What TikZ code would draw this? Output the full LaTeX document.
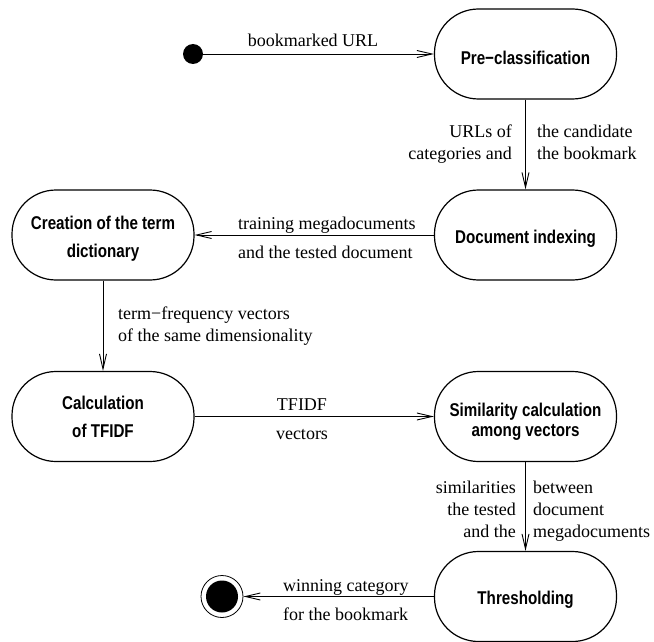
\documentclass[tikz,border=0pt]{standalone}
\usepackage{fontspec}
\setmainfont{Liberation Serif}
\newfontfamily\statefont{Liberation Sans}[FakeStretch=0.82]
\usetikzlibrary{arrows.meta}
% invisible strut that sets the height of a first text line
\newcommand\liftline[1]{\rule{0pt}{#1}}
\tikzset{
  state/.style={draw, line width=1.2pt, rounded corners=44pt,
    minimum width=182pt, minimum height=90pt, inner sep=0pt, align=center,
    font=\statefont\bfseries\fontsize{18.5}{28}\selectfont},
  flow/.style={line width=0.9pt,
    -{Straight Barb[length=15pt,width=7pt,line width=0.9pt]}},
  lbl/.style={inner sep=0pt, font=\rmfamily\fontsize{18}{22}\selectfont},
}
\begin{document}
\begin{tikzpicture}[x=1pt,y=-1pt]
\useasboundingbox (0,0) rectangle (654,642);

% activity states
\node[state] (pre)  at (525.5,54)    {\liftline{21pt}Pre−classification};
\node[state] (doc)  at (525.5,235)   {\liftline{21pt}Document indexing};
\node[state] (dict) at (103,235)     {\liftline{20pt}Creation of the term\\dictionary};
\node[state] (calc) at (103,416.5)   {\liftline{15pt}Calculation\\of TFIDF};
\node[state, font=\statefont\bfseries\fontsize{18.5}{20}\selectfont]
             (sim)  at (525.5,416.5) {\liftline{24pt}Similarity calculation\\among vectors};
\node[state] (thr)  at (525.5,596.5) {\liftline{20pt}Thresholding};

% initial and final pseudo-states
\node[circle, fill, minimum size=20pt, inner sep=0pt] (start) at (193,54) {};
\node[circle, draw, line width=0.8pt, minimum size=42pt, inner sep=0pt] (stop) at (222,596.5) {};
\node[circle, fill, minimum size=32pt, inner sep=0pt] (stopdot) at (stop) {};

% transitions
\draw[flow] (start) -- (pre);
\draw[flow] (pre) -- (doc);
\draw[flow] (doc) -- (dict);
\draw[flow] (dict) -- (calc);
\draw[flow] (calc) -- (sim);
\draw[flow] (sim) -- (thr);
\draw[flow] (thr) -- (stop);

% transition labels (base anchor of a multi-line label sits on its last line)
\node[lbl, anchor=base] (l1) at (313,47) {bookmarked URL};
\node[lbl, anchor=base east, align=right] (l2) at (512,159) {URLs of\\categories and};
\node[lbl, anchor=base west, align=left] (l3) at (537,160) {the candidate\\the bookmark};
\node[lbl, anchor=base west] (l4) at (238,229) {training megadocuments};
\node[lbl, anchor=base west] (l5) at (238,258) {and the tested document};
\node[lbl, anchor=base west, align=left] (l6) at (118,341) {term−frequency vectors\\of the same dimensionality};
\node[lbl, anchor=base] (l7) at (302,410) {TFIDF};
\node[lbl, anchor=base] (l8) at (302,439) {vectors};
\node[lbl, anchor=base east, align=right] (l9) at (516,537) {similarities\\the tested\\and the};
\node[lbl, anchor=base west, align=left] (l10) at (533,537) {between\\document\\megadocuments};
\node[lbl, anchor=base west] (l11) at (283,591) {winning category};
\node[lbl, anchor=base west] (l12) at (283,620) {for the bookmark};
\end{tikzpicture}
\end{document}
